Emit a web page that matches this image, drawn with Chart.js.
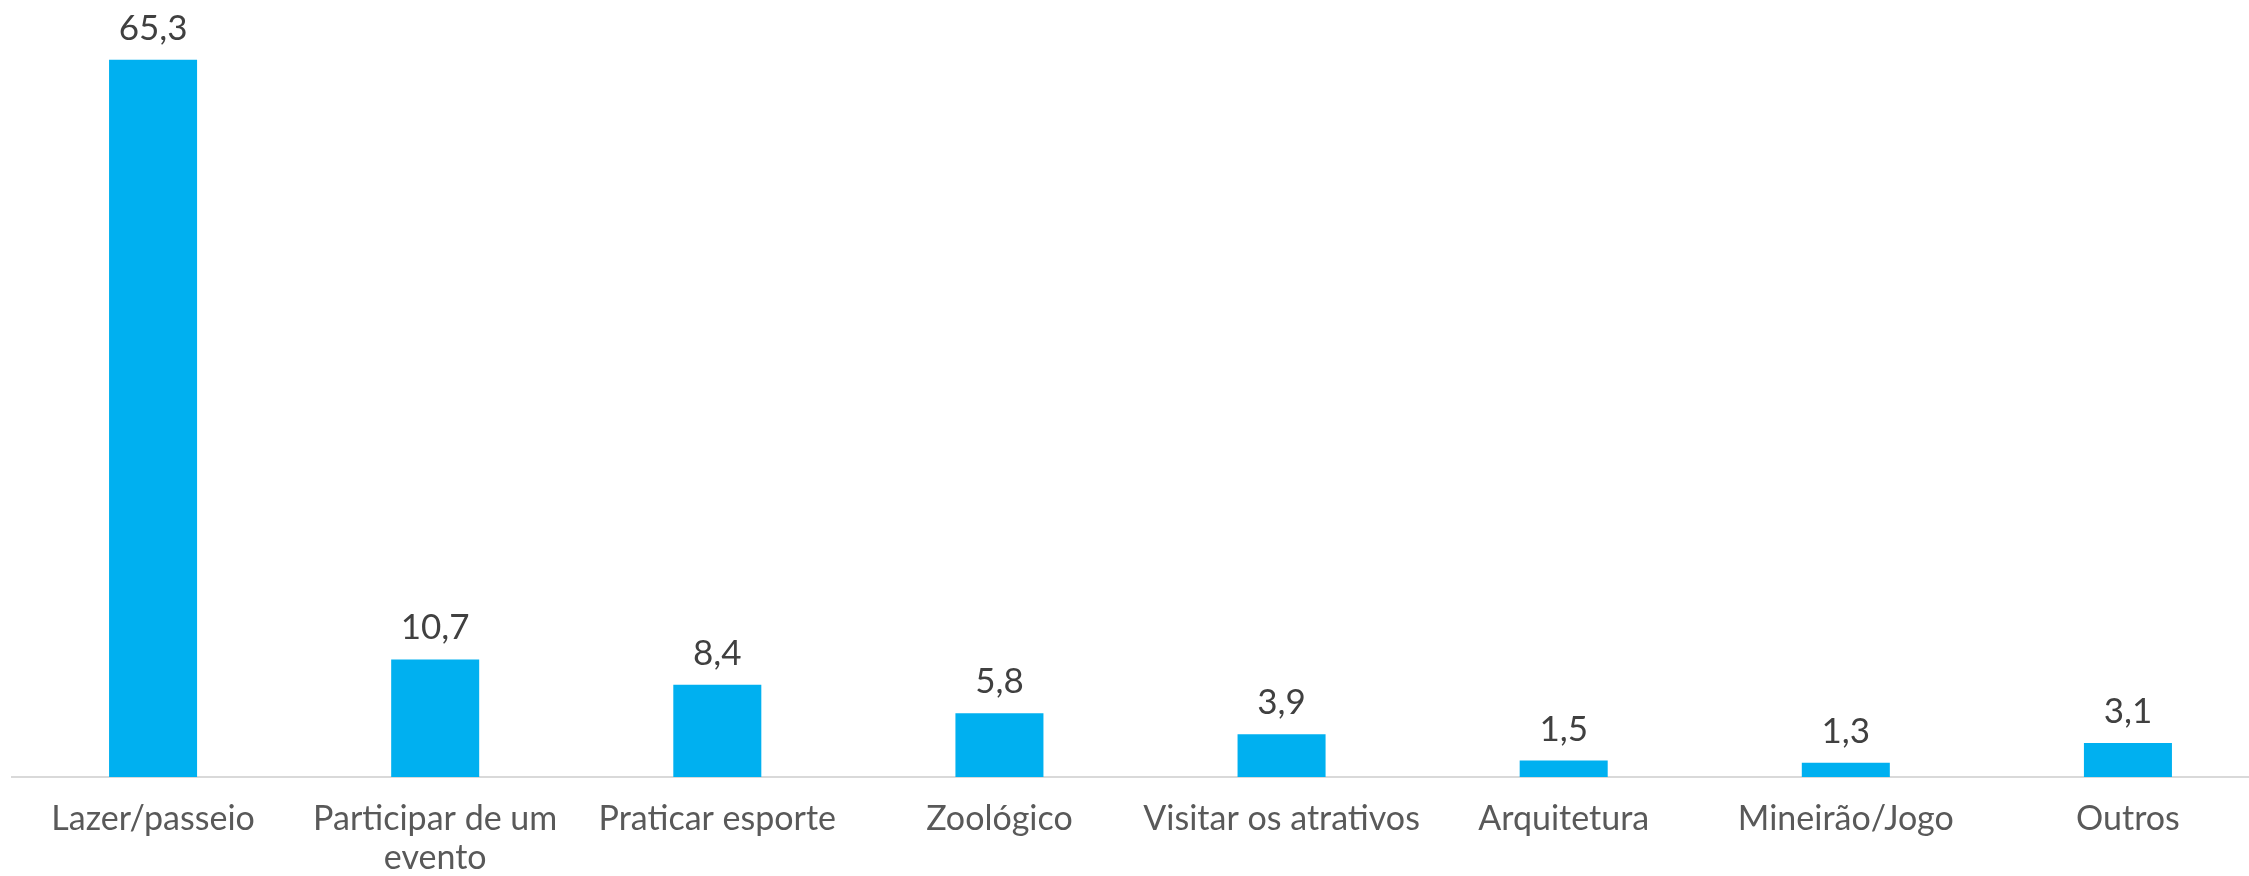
<!DOCTYPE html>
<html>
<head>
<meta charset="utf-8">
<script src="https://cdn.jsdelivr.net/npm/chart.js@4/dist/chart.umd.min.js"></script>
<style>
  html, body { margin: 0; padding: 0; background: #fff; overflow: hidden; }
  #wrap { width: 2280px; height: 876px; }
</style>
</head>
<body>
<div id="wrap"><canvas id="motivoChart"></canvas></div>
<script>
const categories = [
  'Lazer/passeio',
  ['Participar de um', 'evento'],
  'Praticar esporte',
  'Zoológico',
  'Visitar os atrativos',
  'Arquitetura',
  'Mineirão/Jogo',
  'Outros'
];
const percentages = [65.3, 10.7, 8.4, 5.8, 3.9, 1.5, 1.3, 3.1];
const yMax = 70;

const FONT = 'Lato, "Open Sans", sans-serif';

// draws the value above each bar, with a comma as decimal mark
const valueLabels = {
  id: 'valueLabels',
  afterDatasetsDraw(chart) {
    const ctx = chart.ctx;
    const meta = chart.getDatasetMeta(0);
    ctx.save();
    ctx.font = '35px ' + FONT;
    ctx.fillStyle = '#404040';
    ctx.textAlign = 'center';
    ctx.textBaseline = 'alphabetic';
    meta.data.forEach((bar, i) => {
      const txt = percentages[i].toFixed(1).replace('.', ',');
      ctx.fillText(txt, bar.x, bar.y - 20);
    });
    ctx.restore();
  }
};

const ctx = document.getElementById('motivoChart').getContext('2d');
new Chart(ctx, {
  type: 'bar',
  data: {
    labels: categories,
    datasets: [{
      data: percentages,
      backgroundColor: '#00B0F0',
      borderWidth: 0,
      barPercentage: 0.312,
      categoryPercentage: 1
    }]
  },
  options: {
    responsive: true,
    maintainAspectRatio: false,
    animation: false,
    layout: {
      padding: { left: 12, right: 11, top: 8, bottom: 0 }
    },
    scales: {
      x: {
        grid: { display: false, drawTicks: false },
        border: { display: true, color: '#d9d9d9', width: 2 },
        ticks: {
          color: '#595959',
          font: { family: FONT, size: 34, lineHeight: 1.15 },
          padding: 22,
          maxRotation: 0,
          autoSkip: false
        },
        afterFit: (scale) => { scale.height = 99; }
      },
      y: {
        display: false,
        min: 0,
        max: yMax
      }
    },
    plugins: {
      legend: { display: false },
      tooltip: { enabled: false }
    }
  },
  plugins: [valueLabels]
});
</script>
</body>
</html>
